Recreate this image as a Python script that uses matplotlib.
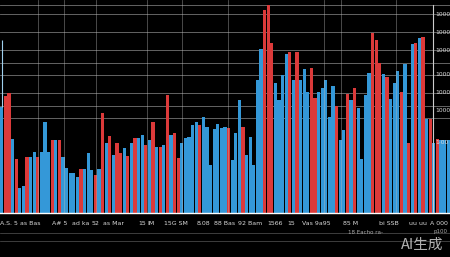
import matplotlib
matplotlib.use("Agg")
import matplotlib.pyplot as plt
import numpy as np

# ---- data (bar heights, in chart units) ----
heights = [106, 117, 120, 74, 54, 25, 27, 56, 56, 61, 56, 61, 91, 61, 73, 73, 73, 56, 45, 40,
           40, 36, 44, 44, 60, 43, 38, 44, 100, 70, 77, 58, 70, 60, 65, 57, 70, 75, 75, 78,
           68, 73, 91, 66, 66, 68, 118, 78, 80, 55, 70, 75, 76, 88, 91, 88, 96, 86, 48, 84,
           89, 85, 86, 85, 53, 80, 113, 86, 58, 76, 48, 133, 164, 203, 208, 170, 130, 113, 138, 159,
           161, 133, 161, 133, 144, 121, 145, 115, 121, 125, 133, 96, 127, 107, 73, 83, 119, 113, 125, 105,
           54, 118, 140, 180, 173, 150, 139, 136, 114, 130, 142, 121, 149, 70, 169, 170, 175, 176, 94, 94,
           70, 74, 73, 73, 73]
series = list("brrbrbbrbbrbbbrbrbbb"
              "bbrbbbrbrbrbrrbrbrbb"
              "rbrbrbrbrrbbbbbrbbbb"
              "bbbrbbbrbbbbbrrrbbbb"
              "rbrbbbrrbbbbbrbbrbrb"
              "bbbrrrbrbbbrbrbrbrbr"
              "brbbb")
colors = {"b": "#3498d8", "r": "#dc3a3a"}

x_labels = ["A.S. 5", "as Bas", "A# 5", "ad ka", "52", "as Mar", "15", "IM",
            "15G SM", "8.08", "88 Bas", "92 Bam", "1566", "15", "Vas 9a95",
            "85 M", "bi SSB", "uu uu", "A 000"]
x_label_pos = [2, 8, 16, 22, 26, 31, 39, 41.5, 48.5, 56, 62, 69, 76, 80.5, 87.5,
               97, 107.5, 115.5, 121.5]

right_labels = ["1000", "1000", "1000", "1000", "1000", "1000", "1·00"]
right_label_vals = [199, 181, 163, 138, 120, 102, 71]

hgrid_vals = [208, 199, 181, 163, 150, 138, 120, 107, 95]
vgrid_pos = [10.1, 17.3, 26.2, 40.3, 50.1, 62.8, 89.5, 94.2, 109.5]

whisker_bar = 0
whisker_top = 173

# ---- figure ----
fig = plt.figure(figsize=(4.5, 2.57), dpi=100)
fig.patch.set_facecolor("black")
ax = fig.add_axes([0, 44 / 257, 1, 213 / 257])
ax.set_facecolor("black")

n = len(heights)
xs = np.arange(n)
ax.bar(xs, heights, width=0.85, color=[colors[s] for s in series], zorder=2, linewidth=0)

ax.vlines(whisker_bar, heights[whisker_bar], whisker_top, color="#9fd0ee", lw=0.8, zorder=3)

for v in hgrid_vals:
    ax.axhline(v, color="#9a9a9a", lw=0.6, alpha=0.75, zorder=1)
for p in vgrid_pos:
    ax.axvline(p, color="#bbbbbb", lw=0.6, alpha=0.45, zorder=3)

# right axis line
ax.axvline(119.8, ymin=0, ymax=0.977, color="#cccccc", lw=0.8, zorder=4)

ax.set_xlim(-0.5, n - 0.5)
ax.set_ylim(0, 213)

for s in ["top", "left", "right"]:
    ax.spines[s].set_visible(False)
ax.spines["bottom"].set_color("white")
ax.spines["bottom"].set_linewidth(1.0)

ax.set_yticks([])
ax.set_xticks(x_label_pos)
ax.set_xticklabels(x_labels, fontsize=4.5, color="#d8d8d8")
ax.tick_params(axis="x", length=0, pad=6)

for lab, v in zip(right_labels, right_label_vals):
    ax.text(0.968, v, lab, transform=ax.get_yaxis_transform(), fontsize=4.3,
            color="#dddddd", va="center", ha="left", zorder=5)

# faint lines under the axis
for ypx in (233, 241):
    fig.add_artist(plt.Line2D([0, 1], [1 - ypx / 257] * 2, color="#555555", lw=0.5,
                              transform=fig.transFigure))
fig.text(348 / 450, 1 - 233 / 257, "18 Eacho ra-", fontsize=4, color="#aaaaaa", va="center")
fig.text(433 / 450, 1 - 232 / 257, "p100", fontsize=4, color="#aaaaaa", va="center")

fig.text(0.985, 1 - 245 / 257, "AI生成", fontsize=10.5, color="#d0d0d0", alpha=0.85,
         ha="right", va="center", family=["Noto Sans CJK SC", "DejaVu Sans"])

fig.savefig("out.png", dpi=100, facecolor="black")
